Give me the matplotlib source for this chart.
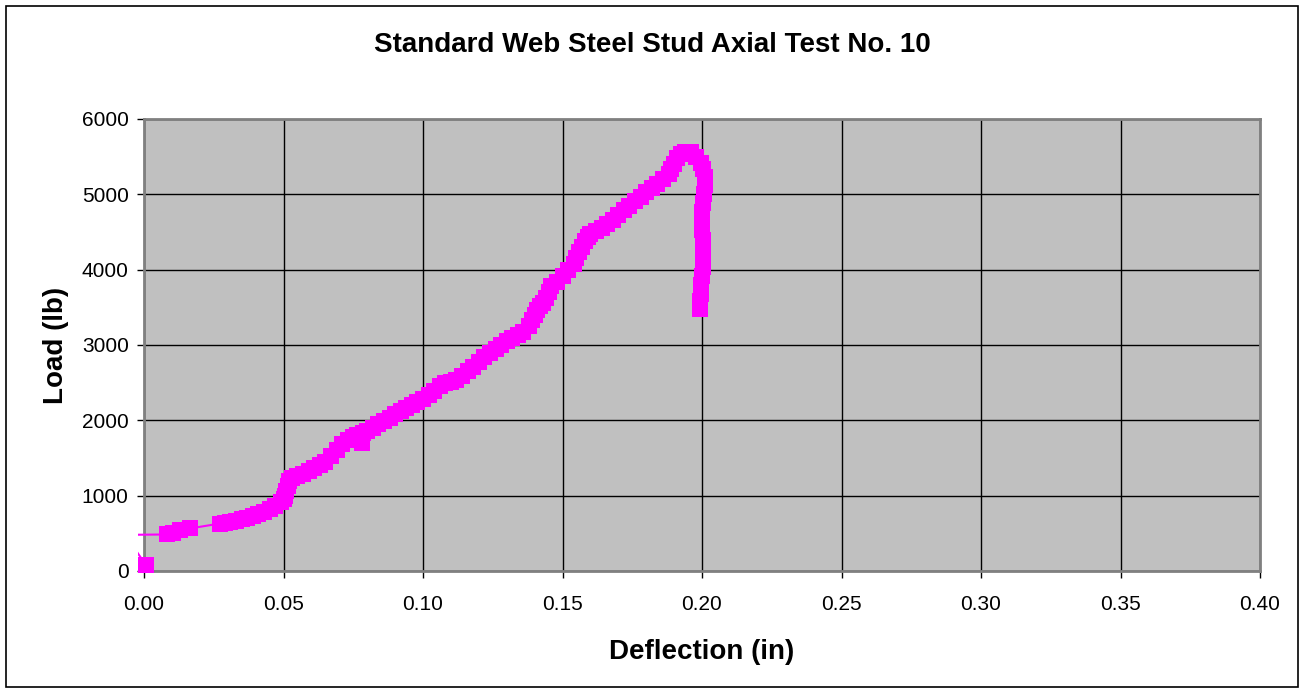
import numpy as np
import matplotlib.pyplot as plt
import matplotlib.patches as patches
from matplotlib.ticker import FormatStrFormatter

plt.rcParams['font.family'] = ['Liberation Sans', 'DejaVu Sans']

# Deflection (in) and load (lb)
deflection = [0.0007, -0.0068, 0.0083, 0.0105, 0.0130, 0.0165,
              0.0272, 0.0290, 0.0310, 0.0330, 0.0350, 0.0370, 0.0390, 0.0410,
              0.0430, 0.0450, 0.0470, 0.0490, 0.0500, 0.0505, 0.0510, 0.0515,
              0.0520, 0.0530, 0.0550, 0.0570, 0.0590, 0.0610, 0.0630, 0.0650,
              0.0670, 0.0690, 0.0710, 0.0730, 0.0750, 0.0765, 0.0780, 0.0785,
              0.0800, 0.0820, 0.0840, 0.0860, 0.0880, 0.0900, 0.0920, 0.0940,
              0.0960, 0.0980, 0.1000, 0.1020, 0.1040, 0.1060, 0.1080, 0.1100,
              0.1120, 0.1140, 0.1160, 0.1180, 0.1200, 0.1220, 0.1240, 0.1260,
              0.1280, 0.1300, 0.1320, 0.1340, 0.1360, 0.1380, 0.1390, 0.1400,
              0.1410, 0.1420, 0.1430, 0.1440, 0.1450, 0.1460, 0.1480, 0.1500,
              0.1520, 0.1540, 0.1550, 0.1560, 0.1570, 0.1580, 0.1590, 0.1600,
              0.1620, 0.1640, 0.1660, 0.1680, 0.1700, 0.1720, 0.1740, 0.1760,
              0.1780, 0.1800, 0.1820, 0.1840, 0.1860, 0.1880, 0.1890, 0.1900,
              0.1910, 0.1925, 0.1940, 0.1960, 0.1980, 0.1995, 0.2005, 0.2010,
              0.2010, 0.2007, 0.2003, 0.2000, 0.2000, 0.2000, 0.2002, 0.2004,
              0.2004, 0.2002, 0.2000, 0.1998, 0.1996, 0.1994, 0.1993]
load = [80, 480, 485, 510, 540, 565,
        630, 640, 650, 665, 685, 705, 730, 755,
        785, 820, 860, 910, 950, 1000, 1060, 1130,
        1190, 1230, 1260, 1290, 1330, 1370, 1410, 1450,
        1520, 1600, 1680, 1740, 1780, 1800, 1700, 1830,
        1860, 1900, 1950, 1990, 2030, 2080, 2120, 2160,
        2200, 2240, 2280, 2330, 2390, 2450, 2500, 2510,
        2540, 2590, 2650, 2710, 2770, 2840, 2900, 2950,
        3000, 3050, 3090, 3130, 3170, 3250, 3330, 3400,
        3470, 3520, 3560, 3620, 3700, 3780, 3840, 3920,
        3990, 4070, 4150, 4230, 4300, 4380, 4430, 4470,
        4510, 4550, 4600, 4660, 4720, 4790, 4850, 4910,
        4970, 5030, 5080, 5140, 5200, 5270, 5330, 5400,
        5480, 5540, 5560, 5560, 5500, 5420, 5330, 5230,
        5120, 5000, 4880, 4760, 4640, 4520, 4400, 4280,
        4160, 4040, 3920, 3800, 3680, 3580, 3480]

x_ticks = [0.00, 0.05, 0.10, 0.15, 0.20, 0.25, 0.30, 0.35, 0.40]
y_ticks = [0, 1000, 2000, 3000, 4000, 5000, 6000]

fig = plt.figure(figsize=(13.04, 6.91), dpi=100)
ax = fig.add_axes([144 / 1304, 1 - 571 / 691, 1116 / 1304, 452 / 691])
ax.set_facecolor('#C0C0C0')

# the second reading lies left of the axis: line only, cut a few pixels past it
marks = [i for i in range(len(deflection)) if i != 1]
line, = ax.plot(deflection, load, color='#FF00FF', linewidth=1.5, marker='s',
                markersize=12, markeredgewidth=0, markevery=marks, zorder=3)
clip = patches.Rectangle((-6 / 1116, -0.03), 1.01, 1.06, transform=ax.transAxes)
line.set_clip_path(clip)

ax.set_xlim(0, 0.40)
ax.set_ylim(0, 6000)
ax.set_xticks(x_ticks)
ax.set_yticks(y_ticks)
ax.xaxis.set_major_formatter(FormatStrFormatter('%.2f'))
ax.grid(True, color='black', linewidth=1)
ax.set_axisbelow(True)
for s in ax.spines.values():
    s.set_color('#808080')
    s.set_linewidth(2)
ax.tick_params(direction='out', length=5, width=1, color='black',
               labelsize=15)
ax.tick_params(axis='x', pad=12)
ax.tick_params(axis='y', pad=6)

ax.set_xlabel('Deflection (in)', fontsize=20, fontweight='bold', labelpad=18)
ax.set_ylabel('Load (lb)', fontsize=20, fontweight='bold', labelpad=9)
fig.text(0.5, 1 - 45 / 691, 'Standard Web Steel Stud Axial Test No. 10',
         ha='center', va='center', fontsize=20, fontweight='bold')

# Chart border
fig.patches.append(patches.Rectangle((5.5 / 1304, 4.5 / 691), 1292 / 1304, 681 / 691,
                                     transform=fig.transFigure, fill=False,
                                     edgecolor='black', linewidth=1.2))

fig.savefig('out.png', dpi=100)
